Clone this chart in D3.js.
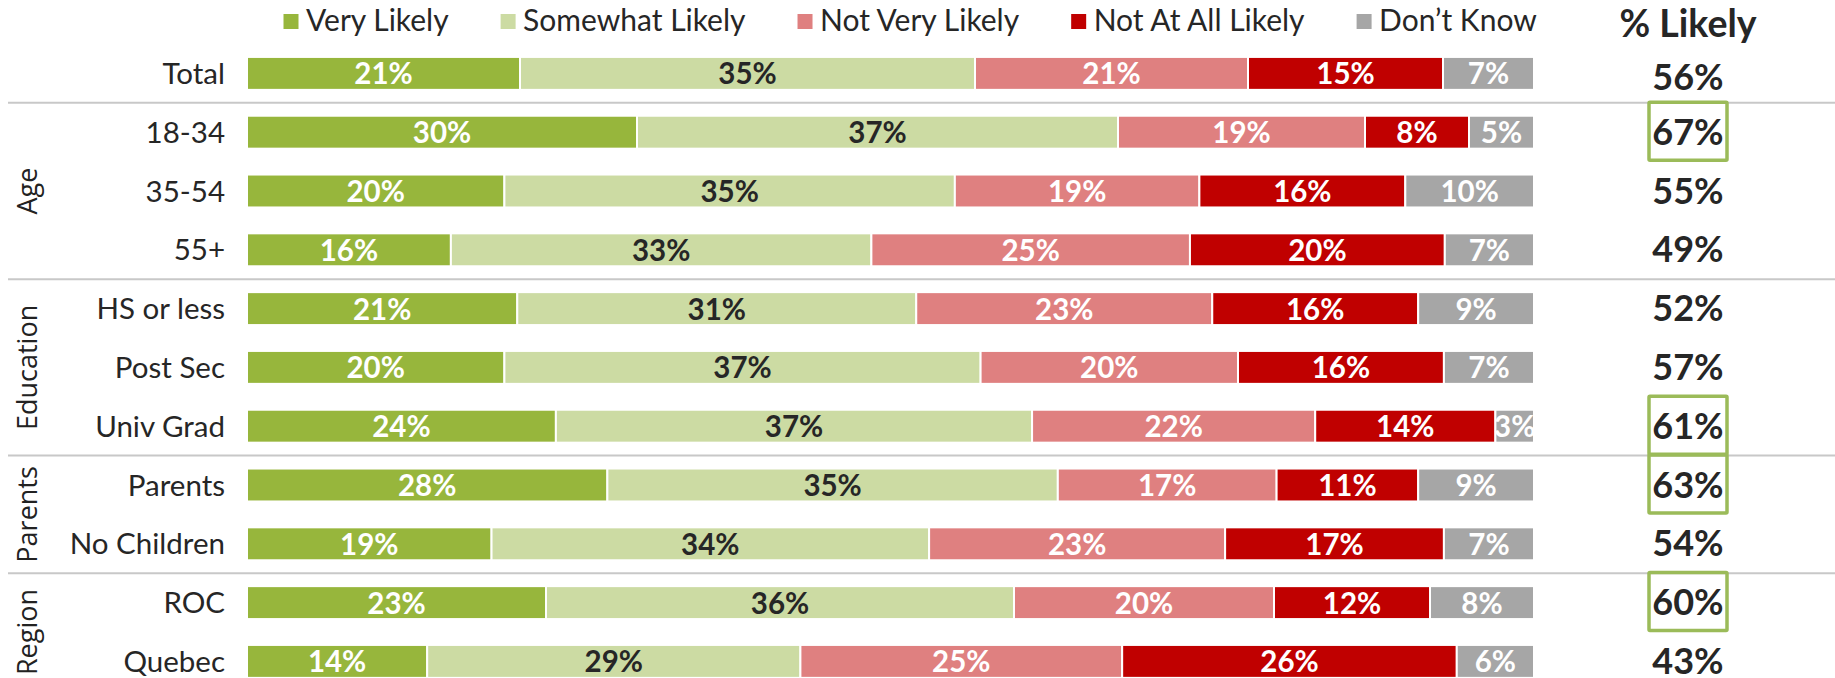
<!DOCTYPE html>
<html><head><meta charset="utf-8">
<script src="https://cdn.jsdelivr.net/npm/d3@7"></script>
<style>html,body{margin:0;padding:0;background:#fff;overflow:hidden}</style>
</head><body><svg id="chart" width="1835" height="678"></svg>
<script>
// ---- data ----
const categories = ["Total","18-34","35-54","55+","HS or less","Post Sec","Univ Grad","Parents","No Children","ROC","Quebec"];
const groupOf = ["","Age","Age","Age","Education","Education","Education","Parents","Parents","Region","Region"];
const groupNames = ["Age","Education","Parents","Region"];
const seriesNames = ["Very Likely","Somewhat Likely","Not Very Likely","Not At All Likely","Don\u2019t Know"];
const veryLikely     = [21,30,20,16,21,20,24,28,19,23,14];
const somewhatLikely = [35,37,35,33,31,37,37,35,34,36,29];
const notVeryLikely  = [21,19,19,25,23,20,22,17,23,20,25];
const notAtAllLikely = [15, 8,16,20,16,16,14,11,17,12,26];
const dontKnow       = [ 7, 5,10, 7, 9, 7, 3, 9, 7, 8, 6];
const pctLikely      = [56,67,55,49,52,57,61,63,54,60,43];
const highlighted = ["18-34","Univ Grad","Parents","ROC"];
const headerLabel = "% Likely";

// ---- styles ----
const colors = ["#97B63C","#CCDBA3","#DF8080","#C00000","#A6A6A6"];
const labelColors = ["#ffffff","#262626","#ffffff","#ffffff","#ffffff"];
const FONT = "Lato, 'Open Sans', sans-serif";
const textDark = "#262626";

const seriesArrays = [veryLikely, somewhatLikely, notVeryLikely, notAtAllLikely, dontKnow];
const data = categories.map((c,i) => {
  const o = {cat: c};
  seriesNames.forEach((s,k) => o[s] = seriesArrays[k][i]);
  return o;
});

const svg = d3.select("#chart");

const x = d3.scaleLinear().domain([0,1]).range([247, 1534]);
const y = d3.scaleBand().domain(categories).range([44, 690.8]).paddingInner(0.44).paddingOuter(0.22);
const bw = y.bandwidth();
const cy = c => y(c) + bw/2;
const color = d3.scaleOrdinal().domain(seriesNames).range(colors);
const lblColor = d3.scaleOrdinal().domain(seriesNames).range(labelColors);

// group separator lines
const sepYs = [];
for (let i = 1; i < categories.length; i++) {
  if (groupOf[i] !== groupOf[i-1]) sepYs.push((cy(categories[i-1]) + cy(categories[i])) / 2);
}
svg.append("g").selectAll("line").data(sepYs).join("line")
  .attr("x1", 8).attr("x2", 1835).attr("y1", d => d).attr("y2", d => d)
  .attr("stroke", "#c8c8c8").attr("stroke-width", 2);

// stacked bars
const stacked = d3.stack().keys(seriesNames).offset(d3.stackOffsetExpand)(data);
const layers = svg.append("g").selectAll("g").data(stacked).join("g")
  .attr("fill", d => color(d.key));
layers.selectAll("rect").data(d => d).join("rect")
  .attr("x", d => x(d[0])).attr("width", d => x(d[1]) - x(d[0]))
  .attr("y", d => y(d.data.cat)).attr("height", bw)
  .attr("stroke", "#ffffff").attr("stroke-width", 2);

// bar labels
const lblG = svg.append("g");
stacked.forEach(layer => {
  lblG.append("g").selectAll("text").data(layer).join("text")
    .attr("x", d => (x(d[0]) + x(d[1])) / 2)
    .attr("y", d => cy(d.data.cat) + 11)
    .attr("text-anchor", "middle")
    .attr("font-family", FONT).attr("font-weight", 700).attr("font-size", 29.5)
    .attr("fill", lblColor(layer.key))
    .text(d => d.data[layer.key] + "%");
});

// category axis
const axis = svg.append("g").attr("transform", `translate(${x(0)},0)`)
  .call(d3.axisLeft(y).tickSize(0).tickPadding(22));
axis.select(".domain").remove();
axis.selectAll("text").attr("font-family", FONT).attr("font-size", 29.5)
  .attr("fill", textDark).attr("dy", "0.36em");

// group labels (rotated)
groupNames.forEach(g => {
  const rows = categories.filter((c,i) => groupOf[i] === g);
  const mid = (cy(rows[0]) + cy(rows[rows.length-1])) / 2;
  svg.append("text")
    .attr("transform", `translate(36.5,${mid}) rotate(-90)`)
    .attr("text-anchor", "middle")
    .attr("font-family", "'Open Sans', sans-serif").attr("font-size", 27)
    .attr("fill", "#222").text(g);
});

// % Likely column
const colX = 1688;
svg.append("text").attr("x", colX).attr("y", 37)
  .attr("text-anchor", "middle").attr("font-family", FONT)
  .attr("font-weight", 700).attr("font-size", 37.5).attr("fill", textDark)
  .text(headerLabel);
svg.append("g").selectAll("text").data(categories).join("text")
  .attr("x", colX).attr("y", (c,i) => cy(c) + (i === 0 ? 16.5 : 12.5))
  .attr("text-anchor", "middle").attr("font-family", FONT)
  .attr("font-weight", 700).attr("font-size", 36).attr("fill", textDark)
  .text((c,i) => pctLikely[i] + "%");
svg.append("g").selectAll("rect").data(highlighted).join("rect")
  .attr("x", colX - 39).attr("width", 78)
  .attr("y", c => cy(c) - 30).attr("height", 58)
  .attr("fill", "none").attr("stroke", "#9BBB59").attr("stroke-width", 3.5).attr("rx", 1);

// legend
let lx = 283.5;
const leg = svg.append("g");
seriesNames.forEach(s => {
  leg.append("rect").attr("x", lx).attr("y", 14).attr("width", 15).attr("height", 15).attr("fill", color(s));
  const t = leg.append("text").attr("x", lx + 22.5).attr("y", 31)
    .attr("font-family", FONT).attr("font-size", 30).attr("fill", textDark).text(s);
  lx = lx + 22.5 + t.node().getComputedTextLength() + 52;
});
</script>
</body></html>
